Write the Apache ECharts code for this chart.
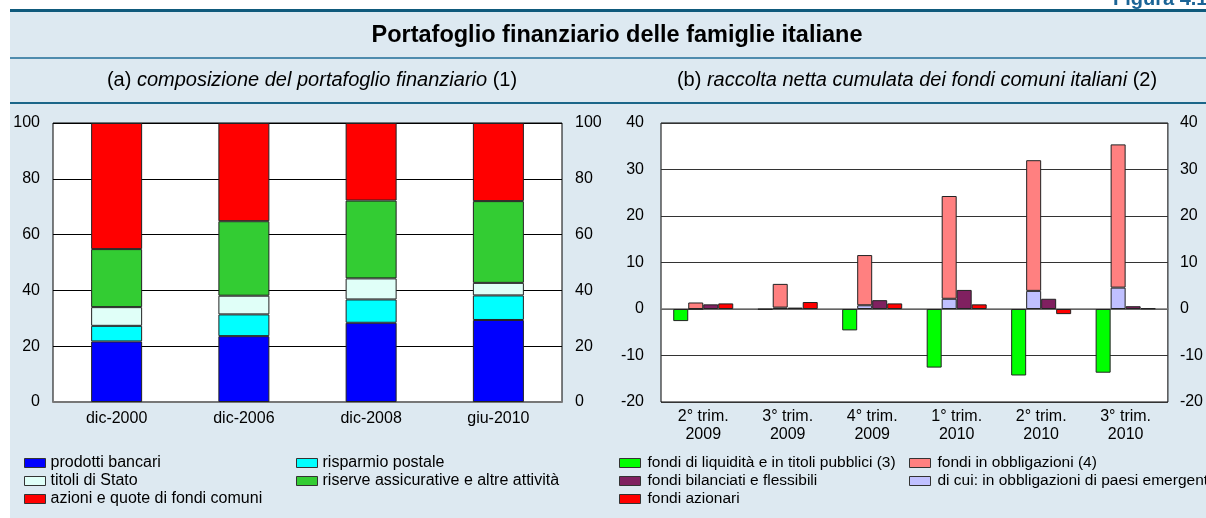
<!DOCTYPE html>
<html>
<head>
<meta charset="utf-8">
<title>Portafoglio finanziario delle famiglie italiane</title>
<script src="https://cdn.jsdelivr.net/npm/echarts@6/dist/echarts.min.js"></script>
<style>
  html, body { margin: 0; padding: 0; background: #fff; }
  #chart { width: 1206px; height: 518px; }
</style>
</head>
<body>
<div id="chart"></div>
<script>
// (a) composizione del portafoglio finanziario, valori percentuali
const periodiA = ['dic-2000', 'dic-2006', 'dic-2008', 'giu-2010']
const bancari = [21.7, 23.6, 28.4, 29.4]
const postale = [5.6, 7.8, 8.35, 8.8]
const titoliStato = [6.7, 6.7, 7.55, 4.5]
const riserve = [20.8, 26.7, 27.9, 29.3]
const azioni = [45.2, 35.2, 27.8, 28.0]

// (b) raccolta netta cumulata dei fondi comuni italiani, miliardi
const periodiB = ['2° trim.\n2009', '3° trim.\n2009', '4° trim.\n2009', '1° trim.\n2010', '2° trim.\n2010', '3° trim.\n2010']
const liquidita = [-2.6, -0.1, -4.6, -12.6, -14.3, -13.7]
const obbligazioni = [1.4, 5.4, 11.6, 24.3, 32.0, 35.4]
const emergenti = [0, 0.3, 0.8, 2.2, 3.9, 4.6]
const bilanciati = [1.0, 0.3, 1.9, 4.1, 2.2, 0.6]
const azionari = [1.2, 1.5, 1.2, 1.0, -1.1, 0.15]

const FONT = '"Liberation Sans", Arial, Helvetica, sans-serif'
const PANEL = '#dde9f1'

const chart = echarts.init(document.getElementById('chart'), null, { renderer: 'canvas' })

// "di cui": la parte emergenti sta dentro la barra delle obbligazioni
const obbligazioniResto = obbligazioni.map((v, i) => +(v - emergenti[i]).toFixed(2))

function legend(left, names, size, pad) {
  return {
    left: left,
    top: 455,
    padding: 0,
    orient: 'vertical',
    selectedMode: false,
    icon: 'rect',
    itemWidth: 21,
    itemHeight: 9,
    itemGap: 2,
    itemStyle: { borderColor: '#333', borderWidth: 1 },
    textStyle: { fontFamily: FONT, fontSize: size, lineHeight: 16, color: '#000', padding: [0, 0, 0, pad] },
    data: names
  }
}

function valueAxis(grid, pos, min, max, step, margin, split, splitColor) {
  return {
    type: 'value',
    gridIndex: grid,
    position: pos,
    min: min,
    max: max,
    interval: step,
    axisLine: { show: false },
    axisTick: { show: false },
    axisLabel: { color: '#000', fontSize: 16, fontFamily: FONT, margin: margin },
    splitLine: { show: split, lineStyle: { color: splitColor, width: 1 } }
  }
}

function bar(name, color, data, extra) {
  return Object.assign({
    name: name,
    type: 'bar',
    data: data,
    itemStyle: { color: color, borderColor: '#222', borderWidth: 1 }
  }, extra)
}

const barA = { xAxisIndex: 0, yAxisIndex: 0, stack: 'a', barWidth: 51 }
const barB = { xAxisIndex: 1, yAxisIndex: 2, barWidth: 15, barGap: '0%' }

chart.setOption({
  animation: false,
  backgroundColor: '#fff',
  textStyle: { fontFamily: FONT },
  graphic: [
    { type: 'rect', z: -10, shape: { x: 10, y: 9, width: 1196, height: 509 }, style: { fill: PANEL } },
    { type: 'rect', z: 5, shape: { x: 10, y: 9, width: 1196, height: 3 }, style: { fill: '#0f5a7c' } },
    { type: 'rect', z: 5, shape: { x: 10, y: 57, width: 1196, height: 2 }, style: { fill: '#4f8cae' } },
    { type: 'rect', z: 5, shape: { x: 10, y: 102, width: 1196, height: 2 }, style: { fill: '#1b6689' } },
    {
      type: 'text', z: 4, x: 1113, y: -11,
      style: { text: 'Figura 4.1', fill: '#1a6496', font: 'bold 20px ' + FONT, textVerticalAlign: 'top' }
    },
    {
      type: 'text', z: 5, x: 617, y: 36,
      style: {
        text: 'Portafoglio finanziario delle famiglie italiane',
        fill: '#000', font: 'bold 23.5px ' + FONT, textAlign: 'center', textVerticalAlign: 'middle'
      }
    },
    {
      type: 'text', z: 5, x: 312, y: 80,
      style: {
        text: '{n|(a) }{i|composizione del portafoglio finanziario}{n| (1)}',
        textAlign: 'center', textVerticalAlign: 'middle',
        rich: {
          n: { font: '20px ' + FONT, fill: '#000' },
          i: { font: 'italic 20px ' + FONT, fill: '#000' }
        }
      }
    },
    {
      type: 'text', z: 5, x: 917, y: 80,
      style: {
        text: '{n|(b) }{i|raccolta netta cumulata dei fondi comuni italiani}{n| (2)}',
        textAlign: 'center', textVerticalAlign: 'middle',
        rich: {
          n: { font: '20px ' + FONT, fill: '#000' },
          i: { font: 'italic 20px ' + FONT, fill: '#000' }
        }
      }
    }
  ],
  legend: [
    legend(24, ['prodotti bancari', 'titoli di Stato', 'azioni e quote di fondi comuni'], 16, 0),
    legend(296, ['risparmio postale', 'riserve assicurative e altre attività'], 16, 0),
    legend(619, ['fondi di liquidità e in titoli pubblici (3)', 'fondi bilanciati e flessibili', 'fondi azionari'], 15.5, 2),
    legend(909, ['fondi in obbligazioni (4)', 'di cui: in obbligazioni di paesi emergenti'], 15.5, 2)
  ],
  grid: [
    { left: 53, top: 123, width: 509, height: 279, show: true, backgroundColor: '#fff', borderColor: '#000', borderWidth: 1 },
    { left: 661, top: 123, width: 509, height: 279, show: true, backgroundColor: '#fff', borderColor: '#000', borderWidth: 1 }
  ],
  xAxis: [
    {
      type: 'category', gridIndex: 0, position: 'bottom', data: periodiA,
      axisLine: { lineStyle: { color: '#777', width: 2 } },
      axisTick: { inside: true, length: 5, lineStyle: { color: '#000' } },
      axisLabel: { color: '#000', fontSize: 16, fontFamily: FONT, margin: 9 }
    },
    {
      type: 'category', gridIndex: 1, position: 'bottom', data: periodiB,
      axisLine: { onZero: true, lineStyle: { color: '#777', width: 1.5 } },
      axisTick: { inside: true, length: 5, lineStyle: { color: '#000' } },
      axisLabel: { show: false }
    },
    {
      type: 'category', gridIndex: 1, position: 'bottom', data: periodiB,
      axisLine: { show: false, onZero: false },
      axisTick: { show: false },
      axisLabel: { color: '#000', fontSize: 16, lineHeight: 18, fontFamily: FONT, margin: 6 }
    }
  ],
  yAxis: [
    valueAxis(0, 'left', 0, 100, 20, 13, true, '#000'),
    valueAxis(0, 'right', 0, 100, 20, 13, false),
    valueAxis(1, 'left', -20, 40, 10, 17, true, '#333'),
    valueAxis(1, 'right', -20, 40, 10, 12, false)
  ],
  series: [
    bar('prodotti bancari', '#0000ff', bancari, barA),
    bar('risparmio postale', '#00ffff', postale, barA),
    bar('titoli di Stato', '#e0fff8', titoliStato, barA),
    bar('riserve assicurative e altre attività', '#33cc33', riserve, barA),
    bar('azioni e quote di fondi comuni', '#ff0000', azioni, barA),

    bar('fondi di liquidità e in titoli pubblici (3)', '#00ff00', liquidita, barB),
    bar('di cui: in obbligazioni di paesi emergenti', '#c0c0ff', emergenti, Object.assign({ stack: 'obb' }, barB)),
    bar('fondi in obbligazioni (4)', '#ff8080', obbligazioniResto, Object.assign({ stack: 'obb' }, barB)),
    bar('fondi bilanciati e flessibili', '#802060', bilanciati, barB),
    bar('fondi azionari', '#ff0000', azionari, barB)
  ]
})
</script>
</body>
</html>
